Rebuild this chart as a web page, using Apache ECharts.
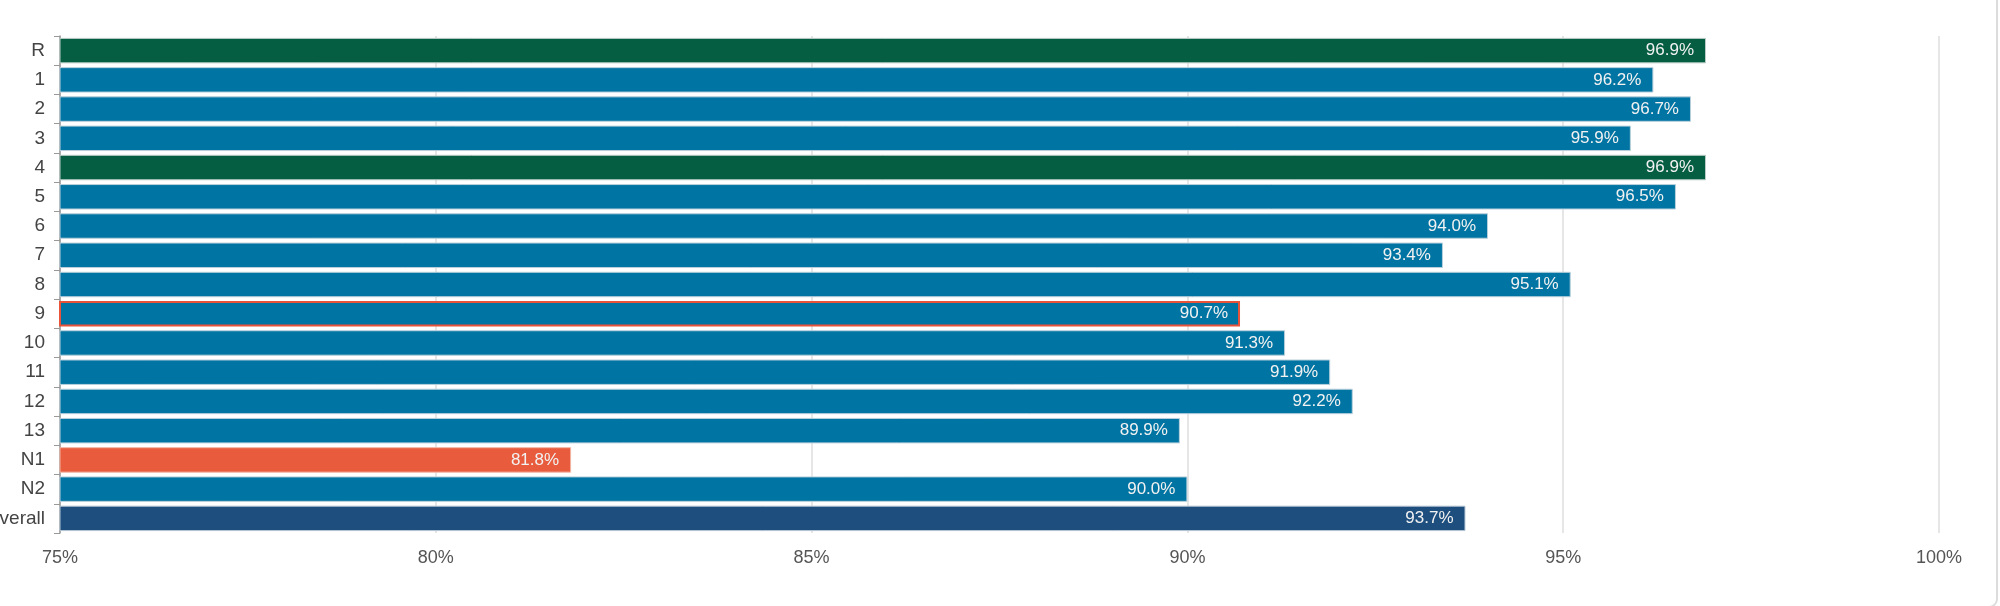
<!DOCTYPE html>
<html>
<head>
<meta charset="utf-8">
<script src="https://cdn.jsdelivr.net/npm/echarts@6/dist/echarts.min.js"></script>
<style>
html,body{margin:0;padding:0;background:#fff;}
#main{width:2000px;height:606px;}
</style>
</head>
<body>
<div id="main"></div>
<script>
const categories = ['R','1','2','3','4','5','6','7','8','9','10','11','12','13','N1','N2','Overall'];
const values = [96.9,96.2,96.7,95.9,96.9,96.5,94.0,93.4,95.1,90.7,91.3,91.9,92.2,89.9,81.8,90.0,93.7];
const barColors = ['#055e42','#0074a2','#0074a2','#0074a2','#055e42','#0074a2','#0074a2','#0074a2','#0074a2','#0074a2','#0074a2','#0074a2','#0074a2','#0074a2','#e85c3d','#0074a2','#1d4e7e'];
const borderColors = ['#b9cdc6','#b9d0dc','#b9d0dc','#b9d0dc','#b9cdc6','#b9d0dc','#b9d0dc','#b9d0dc','#b9d0dc','#e8533a','#b9d0dc','#b9d0dc','#b9d0dc','#b9d0dc','#f2b4a4','#b9d0dc','#b8c6d4'];
const xTicks = {min:75, max:100, interval:5};

const chart = echarts.init(document.getElementById('main'), null, {renderer:'canvas'});
const font = 'Liberation Sans, Arial, sans-serif';
chart.setOption({
  animation:false,
  backgroundColor:'#fff',
  grid:{left:60,right:61,top:36,bottom:73,containLabel:false,outerBoundsMode:'none'},
  xAxis:{
    type:'value', min:xTicks.min, max:xTicks.max, interval:xTicks.interval,
    axisLine:{show:false}, axisTick:{show:false},
    splitLine:{show:true,lineStyle:{color:'#e6e6e6',width:2}},
    axisLabel:{formatter:'{value}%', color:'#555', fontSize:18, fontFamily:font, margin:16}
  },
  yAxis:{
    type:'category', data:categories, inverse:true,
    axisLine:{show:true,lineStyle:{color:'#999',width:1.5}},
    axisTick:{show:true,length:6,lineStyle:{color:'#999'}},
    axisLabel:{color:'#444', fontSize:19, fontFamily:font, margin:15}
  },
  series:[{
    type:'bar',
    barCategoryGap:'13%',
    data: values.map((v,i)=>({
      value:v,
      itemStyle:{color:barColors[i], borderColor:borderColors[i], borderWidth: i===9?2:1}
    })),
    label:{
      show:true, position:'insideRight', distance:12,
      color:'#f2f2f2', fontSize:17, fontFamily:font,
      formatter:p=>p.value.toFixed(1)+'%'
    }
  }],
  graphic:[{
    type:'rect', silent:true,
    shape:{x:-20,y:-20,width:2017,height:627,r:8},
    style:{fill:'none',stroke:'#dcdcdc',lineWidth:2}
  }]
});
</script>
</body>
</html>
